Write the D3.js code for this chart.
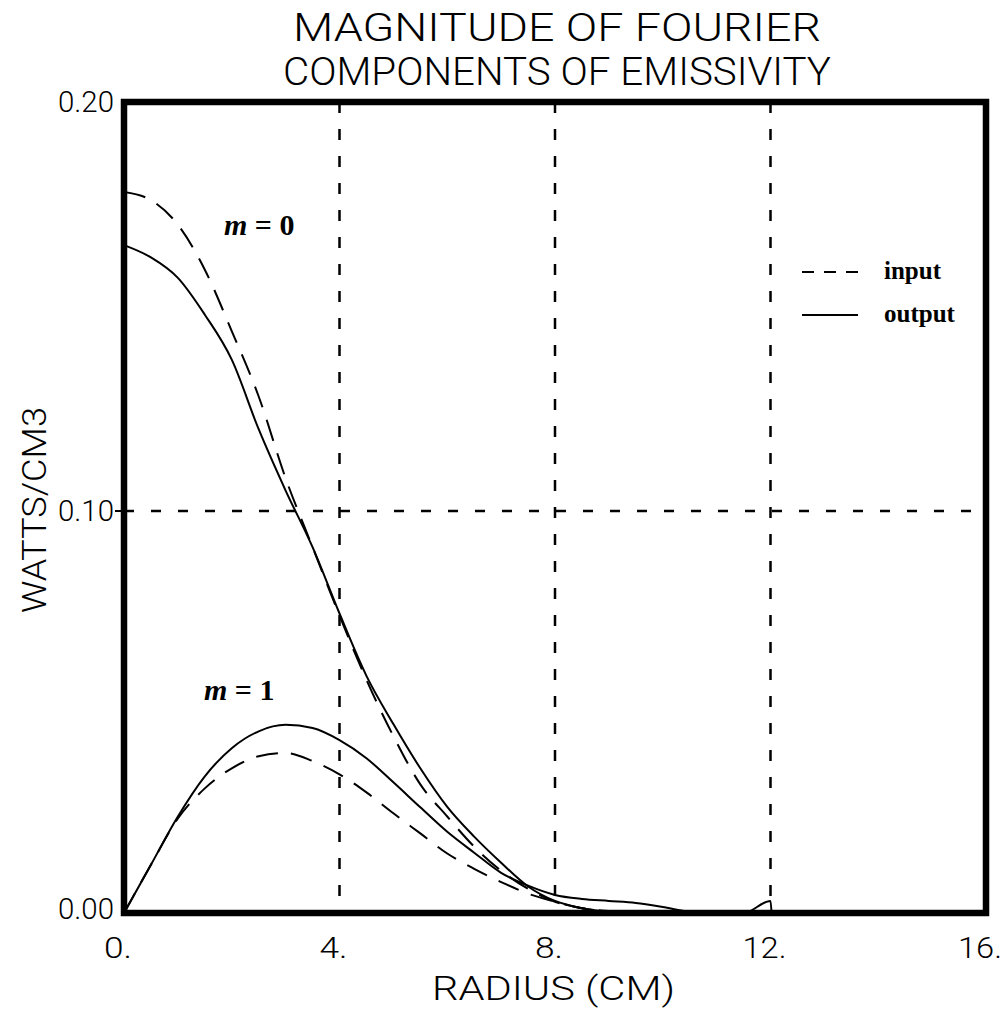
<!DOCTYPE html>
<html><head><meta charset="utf-8">
<script src="https://cdn.jsdelivr.net/npm/d3@7"></script>
<style>html,body{margin:0;padding:0;background:#fff;}</style>
</head><body>
<svg id="chart" width="1007" height="1013"></svg>
<script>
const titleLines = ["MAGNITUDE OF FOURIER", "COMPONENTS OF EMISSIVITY"];
const xLabel = "RADIUS (CM)";
const yLabel = "WATTS/CM3";
const xTicks = [0, 4, 8, 12, 16];
const xTickLabels = ["0.", "4.", "8.", "12.", "16."];
const yTicks = [0, 0.1, 0.2];
const yTickLabels = ["0.00", "0.10", "0.20"];
const xGrid = [4, 8, 12];
const yGrid = [0.1];

const radius = [0, 0.5, 1.0, 1.5, 2.0, 2.5, 3.0, 3.5, 4.0, 4.5, 5.0, 5.5, 6.0, 6.5, 7.0, 7.5, 8.0, 8.5, 9.0, 9.5, 10.0];
const m0Input  = [0.178, 0.176, 0.170, 0.159, 0.144, 0.128, 0.108, 0.091, 0.074, 0.058, 0.044, 0.032, 0.024, 0.0165, 0.0105, 0.006, 0.0028, 0.0012, 0.0003, 0, 0];
const m0Output = [0.165, 0.162, 0.157, 0.148, 0.137, 0.120, 0.105, 0.091, 0.0745, 0.059, 0.047, 0.036, 0.0264, 0.019, 0.0125, 0.0066, 0.003, 0.0012, 0.0003, 0, 0];
const m1Input  = [0, 0.012, 0.0235, 0.031, 0.036, 0.039, 0.0398, 0.0378, 0.0345, 0.030, 0.0248, 0.0198, 0.0148, 0.011, 0.0077, 0.0048, 0.0028, 0.0012, 0.0005, 0.0001, 0];
const m1OutRadius = [0, 0.5, 1.0, 1.5, 2.0, 2.5, 3.0, 3.5, 4.0, 4.5, 5.0, 5.5, 6.0, 6.5, 7.0, 7.5, 8.0, 8.5, 9.0, 9.5, 10.0, 10.5, 11.0, 11.5, 12.0, 12.02];
const m1Output = [0, 0.012, 0.024, 0.034, 0.041, 0.0452, 0.0468, 0.046, 0.043, 0.0385, 0.0325, 0.0263, 0.0202, 0.015, 0.010, 0.0068, 0.0045, 0.0035, 0.003, 0.0025, 0.0015, 0.0003, 0, 0, 0.003, 0];

const legendItems = ["input", "output"];

const svg = d3.select("#chart");
const x = d3.scaleLinear().domain([0, 16]).range([124, 986]);
const y = d3.scaleLinear().domain([0, 0.1, 0.2]).range([913, 511, 102]);

const plotFont = "Roboto, 'Liberation Sans Narrow', 'DejaVu Sans Condensed', sans-serif";
const serif = "'Liberation Serif', 'DejaVu Serif', serif";

function plotText(xp, yp, w, size, txt) {
  return svg.append("text").attr("x", xp).attr("y", yp)
    .attr("font-family", plotFont).attr("font-size", size).attr("font-weight", 300)
    .attr("textLength", w).attr("lengthAdjust", "spacingAndGlyphs")
    .text(txt);
}

// Title
const titleMeta = [{b: 41, len: 528}, {b: 85, len: 548}];
titleLines.forEach((t, i) => {
  const w = titleMeta[i].len;
  plotText(557 - w / 2, titleMeta[i].b, w, 38, t);
});

// Grid lines
const g = svg.append("g");
g.selectAll(".vg").data(xGrid).join("line")
  .attr("x1", d => x(d)).attr("x2", d => x(d)).attr("y1", y(0.2)).attr("y2", y(0))
  .attr("stroke", "#000").attr("stroke-width", 2.5).attr("stroke-dasharray", "11,16");
g.selectAll(".hg").data(yGrid).join("line")
  .attr("x1", x(0)).attr("x2", x(16)).attr("y1", d => y(d)).attr("y2", d => y(d))
  .attr("stroke", "#000").attr("stroke-width", 2.5).attr("stroke-dasharray", "10,17");
g.selectAll(".yt").data(yGrid).join("line")
  .attr("x1", x(0) - 9).attr("x2", x(0)).attr("y1", d => y(d)).attr("y2", d => y(d))
  .attr("stroke", "#000").attr("stroke-width", 2);

// Curves
const line = d3.line().x(d => x(d[0])).y(d => y(d[1])).curve(d3.curveMonotoneX);
const curves = [
  {r: radius, v: m0Input, dash: "22,13"},
  {r: radius, v: m0Output, dash: null},
  {r: radius, v: m1Input, dash: "22,13"},
  {r: m1OutRadius, v: m1Output, dash: null}
];
curves.forEach(c => {
  svg.append("path").datum(c.r.map((r, i) => [r, c.v[i]]))
    .attr("d", line).attr("fill", "none").attr("stroke", "#000")
    .attr("stroke-width", 2).attr("stroke-dasharray", c.dash);
});

// Frame
svg.append("rect").attr("x", x(0)).attr("y", y(0.2))
  .attr("width", x(16) - x(0)).attr("height", y(0) - y(0.2))
  .attr("fill", "none").attr("stroke", "#000").attr("stroke-width", 6.5);

// Y ticks
yTicks.forEach((v, i) => {
  const off = v === 0 ? 6 : 10;
  plotText(114 - 56, y(v) + off, 56, 29, yTickLabels[i]);
});
// X ticks
xTicks.forEach((v, i) => {
  const lab = xTickLabels[i];
  const w = lab.length === 2 ? 28 : 44;
  plotText(x(v) - 6 - w / 2, 958, w, 29, lab);
});

// Axis labels
plotText(553 - 121, 1000, 243, 33, xLabel);
svg.append("text").attr("transform", "translate(46,510) rotate(-90)")
  .attr("x", -103).attr("y", 0)
  .attr("font-family", plotFont).attr("font-size", 33).attr("font-weight", 300)
  .attr("textLength", 206).attr("lengthAdjust", "spacingAndGlyphs")
  .text(yLabel);

// m labels
function mLabel(xp, yp, num) {
  const t = svg.append("text").attr("x", xp).attr("y", yp)
    .attr("font-family", serif).attr("font-size", 30).attr("font-weight", "bold");
  t.append("tspan").attr("font-style", "italic").text("m");
  t.append("tspan").text(" = " + num);
}
mLabel(224, 235, "0");
mLabel(204, 700, "1");

// Legend
const legY = [272, 315];
legendItems.forEach((name, i) => {
  svg.append("line").attr("x1", 802).attr("x2", 858).attr("y1", legY[i]).attr("y2", legY[i])
    .attr("stroke", "#000").attr("stroke-width", 2)
    .attr("stroke-dasharray", i === 0 ? "12,10" : null);
  svg.append("text").attr("x", 884).attr("y", legY[i] + 7)
    .attr("font-family", serif).attr("font-size", 25).attr("font-weight", "bold")
    .text(name);
});
</script>
</body></html>
